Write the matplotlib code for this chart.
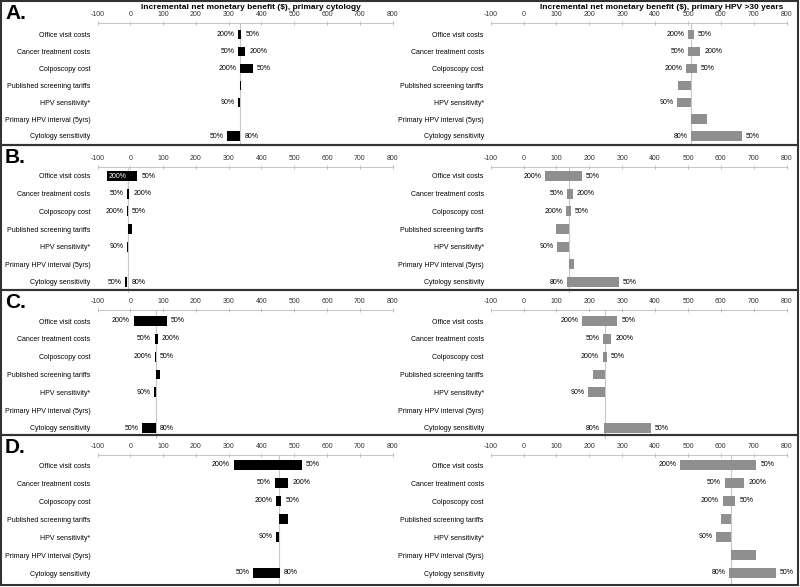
import matplotlib.pyplot as plt
from matplotlib.patches import Rectangle

plt.rcParams['font.family'] = ['Liberation Sans', 'DejaVu Sans']

categories = ["Office visit costs", "Cancer treatment costs", "Colposcopy cost",
              "Published screening tariffs", "HPV sensitivity*",
              "Primary HPV interval (5yrs)", "Cytology sensitivity"]

# data labels at the low / high end of each bar
cyt_low_labels = ["200%", "50%", "200%", "", "90%", "", "50%"]
cyt_high_labels = ["50%", "200%", "50%", "", "", "", "80%"]
hpv_low_labels = ["200%", "50%", "200%", "", "90%", "", "80%"]
hpv_high_labels = ["50%", "200%", "50%", "", "", "", "50%"]

# base-case incremental net monetary benefit ($)
base_cyt = [336, -8, 77, 455]
base_hpv = [510, 138, 247, 630]

# bar ends, primary cytology (rows A-D)
a_cyt_low = [330, 328, 336, 336, 330, 336, 295]
a_cyt_high = [338, 351, 374, 338, 336, 336, 336]
b_cyt_low = [-71, -10, -10, -8, -10, -8, -16]
b_cyt_high = [22, -4, -8, 4, -8, -8, -9]
c_cyt_low = [10, 74, 76, 77, 72, 77, 35]
c_cyt_high = [111, 84, 78, 91, 78, 77, 78]
d_cyt_low = [315, 440, 445, 455, 444, 455, 375]
d_cyt_high = [524, 482, 460, 482, 453, 455, 457]

# bar ends, primary HPV >30 years (rows A-D)
a_hpv_low = [499, 499, 494, 468, 467, 510, 509]
a_hpv_high = [518, 537, 527, 510, 510, 557, 663]
b_hpv_low = [66, 133, 130, 99, 102, 138, 133]
b_hpv_high = [177, 150, 143, 138, 138, 154, 290]
c_hpv_low = [177, 241, 240, 212, 197, 247, 243]
c_hpv_high = [285, 266, 253, 248, 248, 248, 386]
d_hpv_low = [477, 611, 605, 601, 585, 630, 626]
d_hpv_high = [708, 671, 643, 631, 630, 708, 767]

cyt_low = [a_cyt_low, b_cyt_low, c_cyt_low, d_cyt_low]
cyt_high = [a_cyt_high, b_cyt_high, c_cyt_high, d_cyt_high]
hpv_low = [a_hpv_low, b_hpv_low, c_hpv_low, d_hpv_low]
hpv_high = [a_hpv_high, b_hpv_high, c_hpv_high, d_hpv_high]

panel_letters = ["A.", "B.", "C.", "D."]
x_ticks = [-100, 0, 100, 200, 300, 400, 500, 600, 700, 800]

W, H = 800, 587
fig = plt.figure(figsize=(8, 5.87), dpi=100)

# pixel layout of each row: box top, box bottom, axis line, first row, last row
rows_px = [(1, 145, 23, 34.5, 136),
           (145, 290, 167, 176, 282),
           (290, 435, 310, 321, 428),
           (435, 585, 455, 465, 573)]


def add_px_axes(x0, x1, y_top, y_bot):
    return fig.add_axes([x0 / W, 1 - y_bot / H, (x1 - x0) / W, (y_bot - y_top) / H])


def tornado(ax, low, high, base, color, low_labels, high_labels, y_top_frac):
    n = len(categories)
    ys = list(range(n))
    widths = [h - l for l, h in zip(low, high)]
    ax.barh(ys, widths, left=low, height=0.55, color=color, zorder=3)
    ax.axvline(base, color="#c8c8c8", lw=0.8, zorder=2)
    ax.set_xlim(-100, 800)
    ax.set_ylim(n - 0.4, y_top_frac)
    ax.set_yticks(ys)
    ax.set_yticklabels(categories, fontsize=5)
    ax.tick_params(axis="y", length=0, pad=5)
    ax.xaxis.tick_top()
    ax.set_xticks(x_ticks)
    ax.set_xticklabels([str(t) for t in x_ticks], fontsize=5, color="#333333")
    ax.tick_params(axis="x", direction="inout", length=3, width=0.5,
                   color="#aaaaaa", pad=2)
    for s in ["left", "right", "bottom"]:
        ax.spines[s].set_visible(False)
    ax.spines["top"].set_color("#bbbbbb")
    ax.spines["top"].set_linewidth(0.6)
    ax.set_facecolor("none")
    for y, l, h, ll, hl in zip(ys, low, high, low_labels, high_labels):
        if ll:
            if l < -40:
                ax.annotate(ll, (l, y), xytext=(1, 0), textcoords="offset points",
                            ha="left", va="center", fontsize=5, color="white", zorder=4)
            else:
                ax.annotate(ll, (l, y), xytext=(-2.5, 0), textcoords="offset points",
                            ha="right", va="center", fontsize=5, zorder=4)
        if hl:
            ax.annotate(hl, (h, y), xytext=(3, 0), textcoords="offset points",
                        ha="left", va="center", fontsize=5, zorder=4)


for i, (bt, bb, yt, yo, yc) in enumerate(rows_px):
    sp = (yc - yo) / 6
    y_bot = yc + 0.6 * sp
    top_frac = -(yo - yt) / sp
    ax_l = add_px_axes(97.5, 392.5, yt, y_bot)
    tornado(ax_l, cyt_low[i], cyt_high[i], base_cyt[i], "black",
            cyt_low_labels, cyt_high_labels, top_frac)
    ax_r = add_px_axes(490.7, 786.7, yt, y_bot)
    tornado(ax_r, hpv_low[i], hpv_high[i], base_hpv[i], "#8f8f8f",
            hpv_low_labels, hpv_high_labels, top_frac)

    fig.patches.append(Rectangle((1 / W, 1 - bb / H), 797 / W, (bb - bt) / H,
                                 transform=fig.transFigure, fill=False,
                                 edgecolor="#333333", lw=1.5))
    fig.text(5 / W, 1 - (bt + 3) / H, panel_letters[i], fontsize=15,
             fontweight="bold", ha="left", va="top")

fig.text(251 / W, 1 - 7.5 / H, "Incremental net monetary benefit ($), primary cytology",
         fontsize=6, fontweight="bold", ha="center", va="center")
fig.text(662 / W, 1 - 7.5 / H, "Incremental net monetary benefit ($), primary HPV >30 years",
         fontsize=6, fontweight="bold", ha="center", va="center")

fig.savefig("out.png", dpi=100)
